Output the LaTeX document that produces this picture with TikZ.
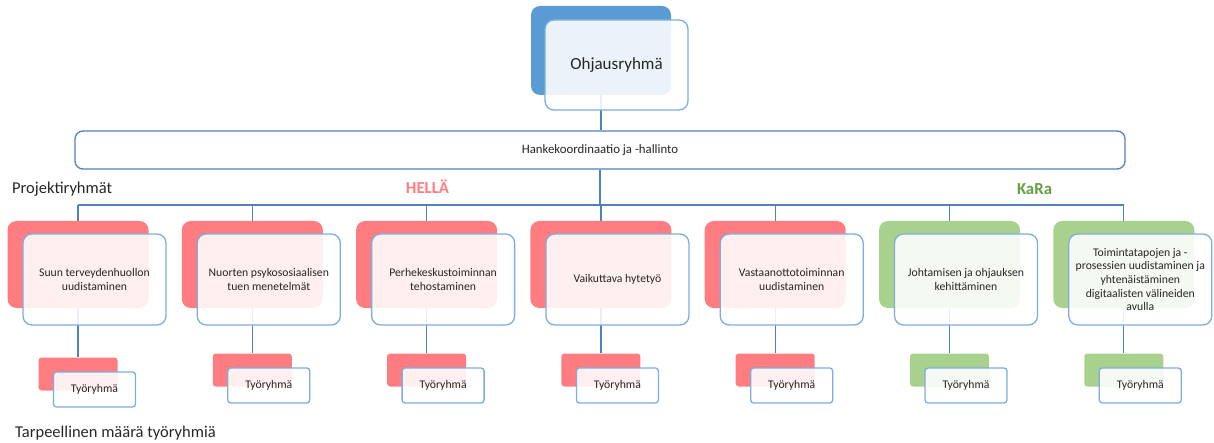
\documentclass[tikz,border=0pt]{standalone}
\usepackage{fontspec}
\setmainfont{Carlito}
\usepackage{xcolor}
\usetikzlibrary{backgrounds}

\definecolor{ohjblue}{HTML}{5B9BD5}
\definecolor{hellared}{HTML}{FF7C80}
\definecolor{karagreen}{HTML}{A9D18E}
\definecolor{karatext}{HTML}{62A043}
\definecolor{edgeblue}{HTML}{7BAEDF}
\definecolor{linkblue}{HTML}{4F81BD}
\definecolor{txtgray}{HTML}{262626}

\begin{document}
\begin{tikzpicture}[x=1pt, y=-1pt,
  backbox/.style={rounded corners=9pt, minimum width=141pt, minimum height=87pt, inner sep=0pt},
  frontbox/.style={draw=edgeblue, line width=1.3pt, fill=white, fill opacity=0.88, text opacity=1,
    rounded corners=9pt, minimum width=143pt, minimum height=91pt, align=center, inner sep=2pt,
    text=txtgray, font=\fontsize{11.7}{13.6}\selectfont},
  smallback/.style={rounded corners=3pt, minimum width=79pt, minimum height=33pt, inner sep=0pt},
  smallfront/.style={draw=edgeblue, line width=1.3pt, fill=white, fill opacity=0.88, text opacity=1,
    rounded corners=3pt, minimum width=82pt, minimum height=35pt, inner sep=1pt,
    text=txtgray, font=\fontsize{11.7}{13.6}\selectfont},
  link/.style={draw=linkblue, line width=1.2pt},
  title/.style={text=txtgray, font=\fontsize{16.5}{19}\selectfont, inner sep=0pt}]

  \useasboundingbox (0,0) rectangle (1214,443);

  % Ohjausryhmä
  \node[backbox, fill=ohjblue, minimum width=140pt, minimum height=89pt] (ohjb) at (601,50.5) {};

  % Hankekoordinaatio
  \node[draw=linkblue, line width=1.3pt, fill=white, rounded corners=8pt, minimum width=1050pt,
    minimum height=38pt, text=txtgray, font=\fontsize{12.8}{15}\selectfont] (hanke) at (600,150)
    {Hankekoordinaatio ja -hallinto};
  \coordinate (bus) at (600,205);

  % Projektiryhmät ja työryhmät
  \foreach \col/\txt [count=\i from 0] in {
      hellared/{Suun terveydenhuollon\\uudistaminen},
      hellared/{Nuorten psykososiaalisen\\tuen menetelmät},
      hellared/{Perhekeskustoiminnan\\tehostaminen},
      hellared/{Vaikuttava hytetyö},
      hellared/{Vastaanottotoiminnan\\uudistaminen},
      karagreen/{Johtamisen ja ohjauksen\\kehittäminen},
      karagreen/{Toimintatapojen ja -\\prosessien uudistaminen ja\\yhtenäistäminen\\digitaalisten välineiden\\avulla}} {
    \pgfmathsetmacro\cx{78+174.3*\i}
    \pgfmathsetmacro\dy{\i==0 ? 4 : 0}
    \node[backbox, fill=\col] (colb\i) at (\cx,264.5) {};
    \node[smallback, fill=\col] (tyb\i) at (\cx,370+\dy) {};
  }

  % Connectors
  \begin{scope}[on background layer]
    \draw[link] (ohjb) -- (ohjb |- hanke.north);
    \draw[link] (hanke.south) -- (bus);
    \draw[link] (colb0.north |- bus) -- (colb6.north |- bus);
    \foreach \i in {0,...,6} {
      \draw[link] (colb\i.north |- bus) -- (colb\i.north);
      \draw[link] (colb\i) -- (tyb\i.north);
    }
  \end{scope}

  % Front boxes
  \node[frontbox, minimum width=143pt, minimum height=90pt, font=\fontsize{17}{20}\selectfont]
    (ohj) at (616.5,65) {Ohjausryhmä};
  \foreach \txt [count=\i from 0] in {
      {Suun terveydenhuollon\\uudistaminen},
      {Nuorten psykososiaalisen\\tuen menetelmät},
      {Perhekeskustoiminnan\\tehostaminen},
      {Vaikuttava hytetyö},
      {Vastaanottotoiminnan\\uudistaminen},
      {Johtamisen ja ohjauksen\\kehittäminen},
      {Toimintatapojen ja -\\prosessien uudistaminen ja\\yhtenäistäminen\\digitaalisten välineiden\\avulla}} {
    \pgfmathsetmacro\cx{78+174.3*\i}
    \pgfmathsetmacro\dy{\i==0 ? 4 : 0}
    \node[frontbox] (col\i) at (\cx+16.5,279.5) {\txt};
    \node[smallfront] (ty\i) at (\cx+16.5,385.5+\dy) {Työryhmä};
  }

  % Labels
  \node[title, anchor=west] (projlbl) at (12,189) {Projektiryhmät};
  \node[title, anchor=west] (tarplbl) at (15,433) {Tarpeellinen määrä työryhmiä};
  \node[title, text=hellared, font=\bfseries\fontsize{16.8}{19}\selectfont] (hella) at (427.5,187) {HELLÄ};
  \node[title, text=karatext, font=\bfseries\fontsize{16.8}{19}\selectfont] (kara) at (1034.5,189) {KaRa};
\end{tikzpicture}
\end{document}
